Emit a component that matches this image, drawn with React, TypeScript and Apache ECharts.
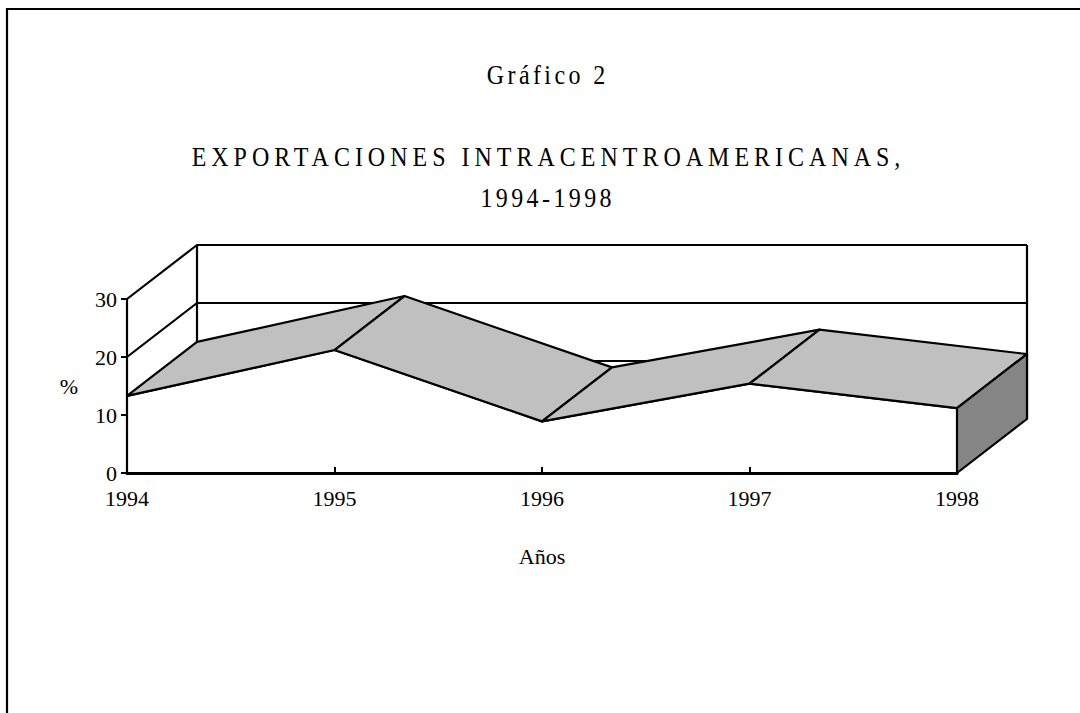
import React, { useEffect, useRef } from "react";
import * as echarts from "echarts";

const years = ["1994", "1995", "1996", "1997", "1998"];
const exportShare = [13.3, 21.2, 8.9, 15.4, 11.2];
const yTicks = [0, 10, 20, 30];

const titleTop = "Gráfico 2";
const titleMain = "EXPORTACIONES INTRACENTROAMERICANAS,";
const titleYears = "1994-1998";
const xName = "Años";
const yName = "%";

const FONT = "'Liberation Serif', 'Times New Roman', serif";
const DX = 70;
const DY = -54;
const TOP_FILL = "#c0c0c0";
const END_FILL = "#858585";
const LW = 2.2;

const SPACING: Record<string, number> = {
  [titleTop]: 3.4,
  [titleMain]: 5,
  [titleYears]: 3.4,
};

export default function App() {
  const ref = useRef<HTMLDivElement>(null);
  useEffect(() => {
    const el = ref.current!;
    const chart = echarts.init(el, undefined, { renderer: "svg" });
    const n = years.length;
    const titleText = (text: string, y: number) => ({
      type: "text",
      x: 546 + SPACING[text] / 2,
      y,
      scaleY: 1.12,
      silent: true,
      style: { text, fill: "#000", font: `24px ${FONT}`, textAlign: "center", textVerticalAlign: "middle" },
    });
    const option: any = {
      animation: false,
      grid: { left: 127, right: 123, top: 299, bottom: 240, containLabel: false },
      xAxis: {
        type: "category",
        data: years,
        boundaryGap: false,
        z: 10,
        axisLine: { show: true, lineStyle: { color: "#000", width: 3 } },
        axisTick: { show: true, inside: true, length: 6, lineStyle: { color: "#000", width: 2 } },
        axisLabel: { color: "#000", fontFamily: FONT, fontSize: 22, margin: 14 },
        splitLine: { show: false },
        name: xName,
        nameLocation: "middle",
        nameGap: 72,
        nameTextStyle: { color: "#000", fontFamily: FONT, fontSize: 22 },
      },
      yAxis: {
        type: "value",
        min: 0,
        max: 30,
        interval: 10,
        z: 10,
        axisLine: { show: true, lineStyle: { color: "#000", width: LW } },
        axisTick: { show: true, inside: false, length: 6, lineStyle: { color: "#000", width: 2 } },
        axisLabel: { color: "#000", fontFamily: FONT, fontSize: 22, margin: 10 },
        splitLine: { show: false },
        name: yName,
        nameLocation: "middle",
        nameRotate: 0,
        nameGap: 58,
        nameTextStyle: { color: "#000", fontFamily: FONT, fontSize: 22, align: "center", verticalAlign: "middle" },
      },
      graphic: [
        {
          type: "polyline",
          shape: { points: [[7, 713], [7, 9], [1080, 9]] },
          style: { stroke: "#000", lineWidth: 2.2, fill: "none" },
          silent: true,
        },
        titleText(titleTop, 75),
        titleText(titleMain, 157),
        titleText(titleYears, 198),
      ],
      series: [
        {
          type: "custom",
          z: 1,
          silent: true,
          data: yTicks.map((v) => [0, v]),
          encode: { x: 0, y: 1 },
          renderItem: (params: any, api: any) => {
            const v = api.value(1);
            const a = api.coord([0, v]);
            const b = api.coord([n - 1, v]);
            const children: any[] = [
              {
                type: "polyline",
                shape: { points: [a, [a[0] + DX, a[1] + DY], [b[0] + DX, b[1] + DY]] },
                style: { stroke: "#000", lineWidth: LW, fill: "none" },
              },
            ];
            if (params.dataIndex === 0) {
              const lo = yTicks[0];
              const hi = yTicks[yTicks.length - 1];
              const l0 = api.coord([0, lo]);
              const l1 = api.coord([0, hi]);
              const r0 = api.coord([n - 1, lo]);
              const r1 = api.coord([n - 1, hi]);
              children.push({
                type: "line",
                shape: { x1: l0[0] + DX, y1: l0[1] + DY, x2: l1[0] + DX, y2: l1[1] + DY },
                style: { stroke: "#000", lineWidth: LW },
              });
              children.push({
                type: "line",
                shape: { x1: r0[0] + DX, y1: r0[1] + DY, x2: r1[0] + DX, y2: r1[1] + DY },
                style: { stroke: "#000", lineWidth: LW },
              });
            }
            return { type: "group", children };
          },
        },
        {
          type: "line",
          z: 3,
          silent: true,
          data: exportShare,
          symbol: "none",
          lineStyle: { color: "#000", width: LW },
          areaStyle: { color: "#ffffff", opacity: 1 },
        },
        {
          type: "custom",
          z: 4,
          silent: true,
          data: exportShare.map((v, i) => [i, v]),
          encode: { x: 0, y: 1 },
          renderItem: (params: any, api: any) => {
            const i = api.value(0);
            const v = api.value(1);
            const p0 = api.coord([i, v]);
            if (i < n - 1) {
              const p1 = api.coord([i + 1, exportShare[i + 1]]);
              return {
                type: "polygon",
                shape: { points: [p0, p1, [p1[0] + DX, p1[1] + DY], [p0[0] + DX, p0[1] + DY]] },
                style: { fill: TOP_FILL, stroke: "#000", lineWidth: LW, lineJoin: "round" },
              };
            }
            const b = api.coord([i, 0]);
            return {
              type: "polygon",
              shape: { points: [p0, [p0[0] + DX, p0[1] + DY], [b[0] + DX, b[1] + DY], b] },
              style: { fill: END_FILL, stroke: "#000", lineWidth: LW, lineJoin: "round" },
            };
          },
        },
      ],
    };
    chart.setOption(option);
    const applySpacing = () => {
      el.querySelectorAll("text").forEach((t) => {
        const s = SPACING[t.textContent ?? ""];
        if (s != null) (t as SVGTextElement).style.letterSpacing = s + "px";
      });
    };
    applySpacing();
    chart.on("finished", applySpacing);
    return () => {
      chart.dispose();
    };
  }, []);
  return (
    <div
      ref={ref}
      style={{ position: "absolute", left: 0, top: 0, width: 1080, height: 713, background: "#fff" }}
    />
  );
}
